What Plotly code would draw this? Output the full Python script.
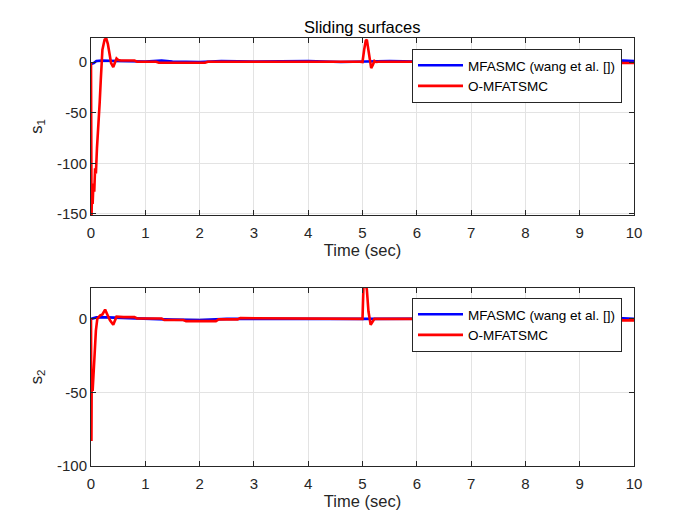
import plotly.graph_objects as go
from plotly.subplots import make_subplots

# ---- data ----
t_s1_red = [0, 0.003, 0.01, 0.02, 0.03, 0.045, 0.06, 0.075, 0.09, 0.11, 0.135, 0.16,
            0.18, 0.21, 0.25, 0.28, 0.31, 0.34, 0.37, 0.41, 0.44, 0.47,
            0.50, 0.55, 0.80, 0.85, 1.20, 1.25, 2.10, 2.15, 4.95, 5.00, 5.03, 5.06, 5.08,
            5.10, 5.13, 5.16, 5.19, 5.22, 5.25, 5.30, 9.75, 9.78, 10.0]
s1_red = [0, -152, -152, -125, -140, -120, -128, -105, -110, -85, -65, -40,
          -18, 12, 22, 23.5, 18, 8, -1, -5, -1, 3.5,
          2, 1.5, 1.5, 0.3, 0.3, -0.8, -0.8, 0.2, 0.2, 0, 12, 21, 22,
          15, 0, -6, -3, 1, 0, 0.3, 0.3, -1, -1]

t_s1_blue = [0, 0.05, 0.10, 0.20, 0.50, 1.0, 1.3, 1.5, 2.0, 2.4, 3.0, 4.0, 4.6, 5.0,
             5.5, 6.0, 7.0, 8.0, 9.0, 9.8, 10.0]
s1_blue = [-2, -1, 1, 1.5, 1, 0.5, 1.5, 0.5, 0, 1, 0.5, 1, 0, 0.5,
           1, 0.5, 0.5, 0, 0.5, 1.5, 1]

t_s2_red = [0, 0.004, 0.008, 0.013, 0.03, 0.055, 0.074, 0.09, 0.116, 0.166,
            0.21, 0.26, 0.30, 0.35, 0.41, 0.44, 0.47, 0.60, 0.80, 0.85, 1.30, 1.35,
            1.70, 1.75, 2.30, 2.35, 2.70, 2.75, 4.98, 5.00, 5.02, 5.05, 5.08, 5.11,
            5.15, 5.18, 5.22, 7.98, 8.00, 8.02, 8.04, 8.06, 9.75, 9.78, 10.0]
s2_red = [0, -83, -83, -38, -49, -30, -19, -8, 0, 2.3,
          3, 6.3, 3, -1, -4, -1, 1.5, 1.2, 1.2, 0.3, 0.3, -0.8,
          -0.8, -1.5, -1.5, -0.3, -0.3, 0.5, 0.5, 0, 25, 25, 20, 5,
          -4, -2, 0, 0, 0, -18, -12, 0, 0, -1, -1]

t_s2_blue = [0, 0.10, 0.30, 0.60, 1.5, 2.0, 2.5, 5.0, 9.7, 10.0]
s2_blue = [0, 1, 1, 0.5, -0.5, -0.8, 0, 0, 0.5, 0]

name_blue = "MFASMC (wang et al. [])"
name_red = "O-MFATSMC"
x_ticks = list(range(0, 11))
s1_ticks = [-150, -100, -50, 0]
s2_ticks = [-100, -50, 0]

# ---- figure ----
fig = make_subplots(rows=2, cols=1)
BLUE = "#0000ff"
RED = "#ff0000"
LW = 2.6

fig.add_trace(go.Scatter(x=t_s1_blue, y=s1_blue, mode="lines", name=name_blue,
                         line=dict(color=BLUE, width=LW), legend="legend"), row=1, col=1)
fig.add_trace(go.Scatter(x=t_s1_red, y=s1_red, mode="lines", name=name_red,
                         line=dict(color=RED, width=LW), legend="legend"), row=1, col=1)
fig.add_trace(go.Scatter(x=t_s2_blue, y=s2_blue, mode="lines", name=name_blue,
                         line=dict(color=BLUE, width=LW), legend="legend2"), row=2, col=1)
fig.add_trace(go.Scatter(x=t_s2_red, y=s2_red, mode="lines", name=name_red,
                         line=dict(color=RED, width=LW), legend="legend2"), row=2, col=1)

W, H = 700, 525
x0, x1 = 91 / W, 634 / W
dom1 = [1 - 215 / H, 1 - 38 / H]
dom2 = [1 - 466 / H, 1 - 288 / H]

FONT = "Liberation Sans, Arial, sans-serif"
axcol = "#262626"
common = dict(showline=True, linecolor=axcol, linewidth=1, mirror="ticks",
              ticks="inside", ticklen=5, tickcolor=axcol, automargin=False,
              showgrid=True, gridcolor="#e3e3e3", gridwidth=1, zeroline=False,
              tickfont=dict(family=FONT, size=15, color=axcol))
tfont = dict(family=FONT, size=16.5, color=axcol)

fig.update_xaxes(**common, range=[0, 10], tickvals=x_ticks,
                 ticktext=[str(v) for v in x_ticks], domain=[x0, x1],
                 ticklabelstandoff=4)
fig.update_xaxes(title=dict(text="Time (sec)", font=tfont, standoff=4), row=1, col=1)
fig.update_xaxes(title=dict(text="Time (sec)", font=tfont, standoff=4), row=2, col=1)
fig.update_yaxes(**common)
fig.update_yaxes(range=[-151, 23.7], tickvals=s1_ticks,
                 ticktext=[str(v) for v in s1_ticks], domain=dom1,
                 title=dict(text="s<sub>1</sub>", font=tfont, standoff=10), row=1, col=1)
fig.update_yaxes(range=[-100, 21], tickvals=s2_ticks,
                 ticktext=[str(v) for v in s2_ticks], domain=dom2,
                 title=dict(text="s<sub>2</sub>", font=tfont, standoff=10), row=2, col=1)

leg = dict(xanchor="right", yanchor="top", bgcolor="white", bordercolor=axcol,
           borderwidth=1, font=dict(family=FONT, size=13.5, color="#000000"),
           tracegroupgap=0, itemwidth=45)

fig.update_layout(
    width=W, height=H, margin=dict(l=0, r=0, t=0, b=0),
    paper_bgcolor="white", plot_bgcolor="white",
    showlegend=True,
    legend=dict(**leg, x=622 / W, y=1 - 49 / H),
    legend2=dict(**leg, x=622 / W, y=1 - 298 / H),
    annotations=[dict(text="Sliding surfaces", x=(x0 + x1) / 2, y=1 - 27 / H,
                      xref="paper", yref="paper", showarrow=False,
                      xanchor="center", yanchor="middle",
                      font=dict(family=FONT, size=16.5, color="#000000"))],
)

fig.write_html("out.html", config={"displayModeBar": False},
               post_script="document.body.style.margin='0';")
